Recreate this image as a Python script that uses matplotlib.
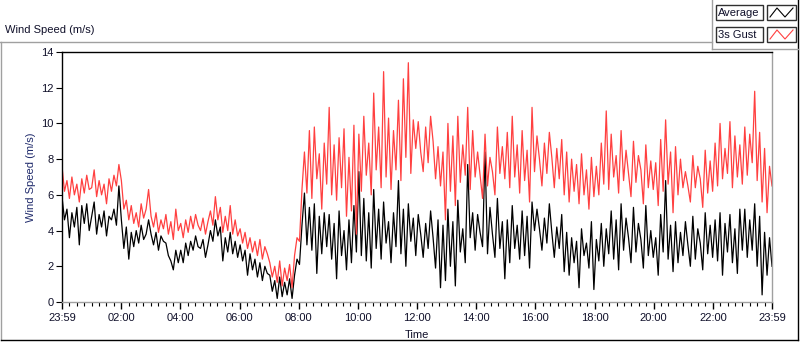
"""Daily wind speed chart: 1-minute-ish average and 3 s gust, LabVIEW look."""

import matplotlib
matplotlib.use("Agg")
import matplotlib.pyplot as plt
from matplotlib.lines import Line2D
from matplotlib.patches import Rectangle
from matplotlib.ticker import MultipleLocator
import numpy as np

# 5-minute samples from 23:59 to 23:59 next day, one row per hour
average = [
    5.9, 4.6, 5.2, 3.6, 5.0, 4.2, 5.3, 3.2, 5.4, 4.4, 5.5, 4.0,
    4.8, 5.6, 3.8, 4.9, 4.2, 5.1, 3.7, 4.8, 4.6, 5.2, 4.3, 6.5,
    4.6, 3.0, 4.2, 2.4, 3.9, 3.1, 4.0, 3.3, 4.3, 3.5, 3.8, 4.6,
    3.8, 3.2, 3.9, 2.9, 3.7, 3.4, 3.3, 2.6, 2.3, 1.8, 2.9, 2.2,
    2.9, 2.2, 3.3, 2.6, 3.4, 2.9, 3.7, 3.1, 3.0, 3.5, 2.5, 3.2,
    4.0, 3.4, 4.6, 3.7, 4.2, 2.3, 3.6, 2.8, 3.9, 2.7, 3.4, 2.5,
    3.2, 2.3, 2.9, 1.5, 2.7, 1.8, 2.4, 1.4, 2.2, 1.2, 2.0, 1.6,
    1.5, 0.6, 1.2, 0.2, 1.4, 0.3, 1.1, 0.4, 1.3, 0.2, 1.5, 2.4,
    2.1, 4.3, 6.1, 3.2, 5.3, 2.9, 5.5, 1.6, 4.8, 2.7, 5.0, 3.1,
    4.9, 2.4, 4.4, 1.3, 5.1, 2.6, 4.0, 1.8, 4.6, 2.2, 5.4, 2.8,
    7.3, 2.6, 5.8, 2.3, 5.0, 1.9, 6.3, 3.0, 5.2, 2.4, 5.6, 3.3,
    4.5, 2.2, 5.0, 3.1, 6.8, 2.7, 5.2, 2.0, 5.5, 3.4, 4.7, 2.6,
    4.9, 3.8, 2.5, 4.4, 3.0, 5.1, 3.6, 1.9, 4.6, 0.8, 4.3, 1.2,
    5.2, 2.0, 4.5, 0.9, 5.7, 2.8, 4.1, 2.2, 7.7, 3.6, 5.0, 2.9,
    4.9, 3.9, 3.1, 8.4, 2.7, 5.3, 3.8, 2.5, 5.8, 3.0, 4.5, 1.3,
    4.6, 2.2, 5.4, 3.0, 4.3, 2.4, 5.1, 2.6, 4.8, 1.9, 5.6, 4.0,
    5.2, 4.1, 2.9, 4.7, 3.3, 5.5, 3.9, 2.5, 4.2, 3.0, 4.9, 1.7,
    3.9, 1.5, 3.6, 2.2, 3.4, 0.8, 4.1, 2.6, 3.3, 1.9, 4.5, 0.7,
    3.5, 2.3, 4.4, 2.0, 4.1, 2.7, 5.1, 2.4, 4.6, 1.8, 5.5, 2.9,
    4.7, 3.6, 2.2, 5.3, 2.8, 4.4, 3.5, 1.9, 5.4, 2.6, 4.0, 2.5,
    3.6, 1.5, 4.9, 2.8, 6.8, 2.4, 4.3, 1.7, 4.5, 2.2, 3.9, 2.6,
    4.5, 3.2, 2.0, 4.8, 2.4, 4.1, 3.3, 1.8, 5.0, 2.7, 4.3, 2.5,
    4.6, 2.3, 5.0, 1.5, 4.4, 2.8, 4.9, 2.2, 4.1, 1.6, 5.2, 2.9,
    5.2, 2.5, 4.6, 2.9, 5.5, 2.0, 4.8, 0.4, 3.9, 1.5, 3.6, 2.0,
]

gust = [
    7.6, 6.2, 6.8, 5.8, 7.0, 6.0, 6.6, 5.6, 6.9, 6.1, 7.1, 6.3,
    6.4, 7.4, 5.9, 6.8, 6.0, 6.6, 5.5, 6.9, 6.2, 7.1, 6.5, 7.7,
    6.8, 5.2, 5.7, 4.6, 5.4, 4.4, 5.0, 4.2, 5.5, 4.7, 5.2, 6.3,
    4.8, 4.2, 5.0, 3.9, 4.6, 4.1, 4.9, 3.8, 4.5, 3.5, 5.2, 4.0,
    4.4, 3.6, 4.6, 3.9, 4.8, 4.1, 4.9, 4.3, 4.0, 4.7, 3.8, 4.5,
    5.1, 4.3, 5.9, 4.6, 5.3, 3.9, 4.8, 4.0, 5.4, 3.8, 4.6, 3.7,
    4.1, 3.3, 3.9, 3.0, 3.6, 2.8, 3.4, 2.6, 3.5, 2.4, 3.1, 2.7,
    2.2, 1.4, 2.0, 1.1, 2.3, 0.9, 1.9, 1.2, 2.1, 0.8, 2.6, 3.6,
    3.4, 6.3, 8.4, 6.1, 9.6, 5.8, 9.8, 6.9, 8.3, 5.2, 8.9, 6.6,
    10.9, 6.0, 8.8, 5.7, 9.2, 6.4, 9.7, 4.8, 8.1, 5.1, 9.9, 3.8,
    9.4, 6.2, 10.4, 7.1, 8.9, 6.0, 11.7, 7.4, 9.8, 6.4, 12.9, 7.0,
    10.3, 6.3, 9.6, 7.4, 11.3, 6.8, 12.5, 8.1, 13.4, 7.2, 10.2, 8.6,
    10.1, 8.4, 7.3, 9.8, 7.8, 10.4, 9.0, 6.9, 8.7, 6.5, 8.4, 4.6,
    10.0, 6.2, 9.3, 5.4, 10.4, 6.7, 8.8, 7.1, 10.9, 6.3, 9.6, 7.0,
    8.4, 7.1, 5.8, 9.4, 6.5, 8.1, 7.3, 6.0, 9.8, 7.2, 8.7, 6.9,
    9.5, 6.4, 10.4, 7.0, 8.8, 6.1, 9.6, 6.8, 8.5, 5.6, 10.9, 7.3,
    9.3, 8.0, 6.5, 8.9, 7.2, 9.5, 8.1, 6.4, 8.6, 6.9, 9.1, 6.0,
    8.4, 5.6, 8.0, 6.2, 7.7, 5.5, 8.3, 6.0, 7.4, 5.2, 8.1, 5.9,
    7.6, 6.0, 8.9, 6.6, 10.7, 6.3, 9.4, 7.0, 8.2, 6.1, 9.6, 6.8,
    8.5, 7.2, 5.9, 9.0, 6.7, 8.2, 7.4, 5.5, 8.8, 6.4, 7.9, 6.3,
    7.8, 5.4, 9.1, 6.2, 10.2, 6.6, 8.4, 5.0, 8.7, 6.0, 8.0, 6.4,
    7.3, 6.5, 5.6, 8.2, 6.4, 7.6, 6.9, 5.3, 8.5, 6.1, 7.9, 6.2,
    8.9, 6.5, 10.0, 6.9, 8.6, 7.2, 10.1, 6.4, 9.3, 7.0, 8.8, 6.6,
    9.8, 7.1, 9.4, 7.8, 11.8, 6.8, 9.5, 5.6, 8.6, 5.0, 7.6, 6.5,
]

time_labels = ["23:59", "02:00", "04:00", "06:00", "08:00", "10:00", "12:00",
               "14:00", "16:00", "18:00", "20:00", "22:00", "23:59"]
legend_names = ["Average", "3s Gust"]
colors = ["#000000", "#ff4040"]

W, H = 800, 342
TXT = "#10102a"


def fx(x):
    return x / W


def fy(y):
    return 1 - y / H


plt.rcParams["font.family"] = ["Liberation Sans", "DejaVu Sans"]
plt.rcParams["font.size"] = 8

fig = plt.figure(figsize=(W / 100, H / 100), dpi=100)
ax = fig.add_axes([fx(62), fy(302), (772 - 62) / W, (302 - 52) / H])

minutes = np.linspace(0, 1440, len(average))
ax.plot(minutes, average, color=colors[0], lw=0.9)
ax.plot(minutes, gust, color=colors[1], lw=0.9)

ax.set_xlim(0, 1440)
ax.set_ylim(0, 14)
ax.set_xticks(np.arange(0, 1441, 120))
ax.set_xticklabels(time_labels)
ax.xaxis.set_minor_locator(MultipleLocator(15))
ax.set_yticks(np.arange(0, 15, 2))
ax.tick_params(axis="both", colors="#000000", labelcolor=TXT, labelsize=8)
ax.tick_params(axis="x", which="major", length=5, width=1, pad=3)
ax.tick_params(axis="x", which="minor", length=3, width=0.8)
ax.tick_params(axis="y", length=4, width=0.8, pad=2)

for side in ("top", "left"):
    ax.spines[side].set_color("#000000")
    ax.spines[side].set_linewidth(1.0)
for side in ("right", "bottom"):
    ax.spines[side].set_color("#a0a0a0")
    ax.spines[side].set_linewidth(1.0)

ax.set_xlabel("Time", color=TXT, fontsize=8, labelpad=5)
ax.set_ylabel("Wind Speed (m/s)", color="#1f2a6b", fontsize=8, labelpad=4)

fig.text(fx(5), fy(30), "Wind Speed (m/s)", color=TXT, fontsize=8,
         ha="left", va="center")

# outer graph frame and legend frame
gray = "#a0a0a0"
frame = [
    ([0, 712], [42, 42], gray),
    ([1, 1], [42, 340], gray),
    ([1, 798], [340, 340], "#000000"),
    ([798, 798], [0, 340], "#000000"),
    ([712, 712], [0, 49], gray),
    ([712, 798], [49, 49], gray),
]
for xs, ys, c in frame:
    fig.add_artist(Line2D([fx(v) for v in xs], [fy(v) for v in ys],
                          color=c, lw=1.0, transform=fig.transFigure))

# legend entries
for i, (name, c) in enumerate(zip(legend_names, colors)):
    top = 5 + i * 22
    fig.add_artist(Rectangle((fx(716), fy(top + 15)), 47 / W, 15 / H,
                             transform=fig.transFigure, fill=False,
                             ec="#303030", lw=1.0))
    fig.text(fx(718), fy(top + 7.5), name, color=TXT, fontsize=8,
             ha="left", va="center")
    fig.add_artist(Rectangle((fx(767), fy(top + 15)), 29 / W, 15 / H,
                             transform=fig.transFigure, fill=False,
                             ec="#303030", lw=1.0))
    zx = [770, 777, 785, 793]
    zy = [top + 12, top + 3, top + 12, top + 3]
    fig.add_artist(Line2D([fx(v) for v in zx], [fy(v) for v in zy],
                          color=c, lw=0.8, transform=fig.transFigure))

fig.savefig("out.png", dpi=100)
